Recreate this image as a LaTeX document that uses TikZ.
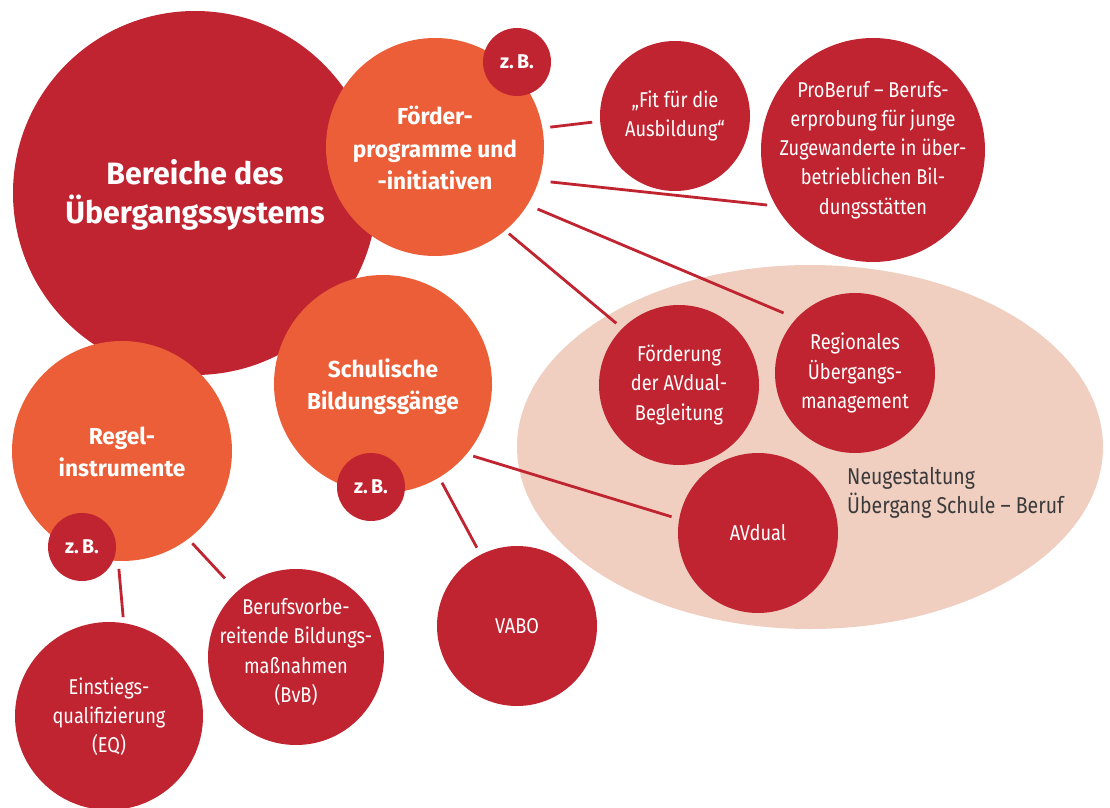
\documentclass[tikz,border=0pt]{standalone}
\usepackage{fontspec}
\setmainfont{Fira Sans}[FakeStretch=0.85, BoldFeatures={FakeStretch=0.98}]
\usetikzlibrary{shapes.geometric}
\definecolor{dred}{HTML}{C02430}
\definecolor{orng}{HTML}{EB5E37}
\definecolor{rose}{HTML}{F0CFC1}
\definecolor{ink}{HTML}{3A3A3A}
\begin{document}
\begin{tikzpicture}[x=1bp,y=-1bp,
  disc/.style={circle, inner sep=0pt, outer sep=0pt, minimum size=#1},
  reddisc/.style={disc=#1, fill=dred},
  orangedisc/.style={disc=#1, fill=orng},
  headtxt/.style={text=white, align=center, inner sep=0pt, font=\bfseries\fontsize{31}{39}\selectfont},
  areatxt/.style={text=white, align=center, inner sep=0pt, font=\bfseries\fontsize{23.2}{32.5}\selectfont},
  zbtxt/.style={text=white, inner sep=0pt, font=\bfseries\fontsize{20}{24}\selectfont},
  itemtxt/.style={text=white, align=center, inner sep=0pt, font=\fontsize{21.5}{29.3}\selectfont},
  link/.style={draw=dred, line width=2.8bp}
]
\useasboundingbox (0,0) rectangle (1110,808);

% background area for the reform project
\node[ellipse, fill=rose, inner sep=0pt, minimum width=586bp, minimum height=364bp] (neu) at (810,447) {};

% main circle and the three areas
\node[reddisc=364bp] (main) at (195,193) {};
\node[headtxt] (maint) at ([yshift=-2bp]main.center) {Bereiche des\\Übergangssystems};

\node[orangedisc=218bp] (foerder) at (435,147) {};
\node[areatxt] (foerdert) at ([yshift=-1bp]foerder.center) {Förder-\\programme und\\-initiativen};

\node[orangedisc=218bp] (schul) at (383,384) {};
\node[areatxt] (schult) at ([yshift=-3bp]schul.center) {Schulische\\Bildungsgänge};

\node[orangedisc=220bp] (regel) at (122,451) {};
\node[areatxt] (regelt) at ([yshift=-1bp]regel.center) {Regel-\\instrumente};

% "z. B." badges
\node[reddisc=68bp] (zba) at (517,62) {};
\node[zbtxt] (zbat) at (zba) {z.\,B.};
\node[reddisc=68bp] (zbb) at (371,487) {};
\node[zbtxt] (zbbt) at (zbb) {z.\,B.};
\node[reddisc=68bp] (zbc) at (82,547) {};
\node[zbtxt] (zbct) at (zbc) {z.\,B.};

% examples
\node[reddisc=150bp] (fit) at (675,116) {};
\node[itemtxt] (fitt) at (fit) {„Fit für die\\Ausbildung“};

\node[reddisc=224bp] (pro) at (873,150) {};
\node[itemtxt] (prot) at (pro) {ProBeruf – Berufs-\\erprobung für junge\\Zugewanderte in über-\\betrieblichen Bil-\\dungsstätten};

\node[reddisc=160bp] (avb) at (679,385) {};
\node[itemtxt] (avbt) at (avb) {Förderung\\der AVdual-\\Begleitung};

\node[reddisc=160bp] (rum) at (855,373) {};
\node[itemtxt] (rumt) at (rum) {Regionales\\Übergangs-\\management};

\node[reddisc=160bp] (avd) at (758,533) {};
\node[itemtxt] (avdt) at (avd) {AVdual};

\node[reddisc=160bp] (vabo) at (517,626) {};
\node[itemtxt] (vabot) at (vabo) {VABO};

\node[reddisc=176bp] (bvb) at (296,657) {};
\node[itemtxt] (bvbt) at ([yshift=5bp]bvb.center) {Berufsvorbe-\\reitende Bildungs-\\maßnahmen\\(BvB)};

\node[reddisc=188bp] (eq) at (109,716) {};
\node[itemtxt] (eqt) at ([yshift=-1bp]eq.center) {Einstiegs-\\qualifizierung\\(EQ)};

\node[text=ink, align=left, inner sep=0pt, anchor=north west,
      font=\fontsize{23}{29.5}\selectfont] (neut) at (847,467)
      {Neugestaltung\\Übergang Schule – Beruf};

% connectors
\draw[link, shorten <=8bp, shorten >=8bp] (foerder.10.8) -- (fit.184.1);
\draw[link, shorten <=12bp, shorten >=9bp] (foerder.-18.3) -- (pro.210.2);
\draw[link, shorten <=11bp, shorten >=14bp] (foerder.-32.1) -- (rum.137.2);
\draw[link, shorten <=5bp, shorten >=8bp] (foerder.-50.3) -- (avb.135);
\draw[link, shorten <=7bp, shorten >=8bp] (schul.-40.1) -- (avd.170.2);
\draw[link, shorten <=6bp, shorten >=8bp] (schul.-59.6) -- (vabo.117.7);
\draw[link, shorten <=6bp, shorten >=18bp] (regel.-53.4) -- (bvb.132.8);
\draw[link, shorten <=8bp, shorten >=6bp] (regel.-92.4) -- (eq.81.4);
\end{tikzpicture}
\end{document}
